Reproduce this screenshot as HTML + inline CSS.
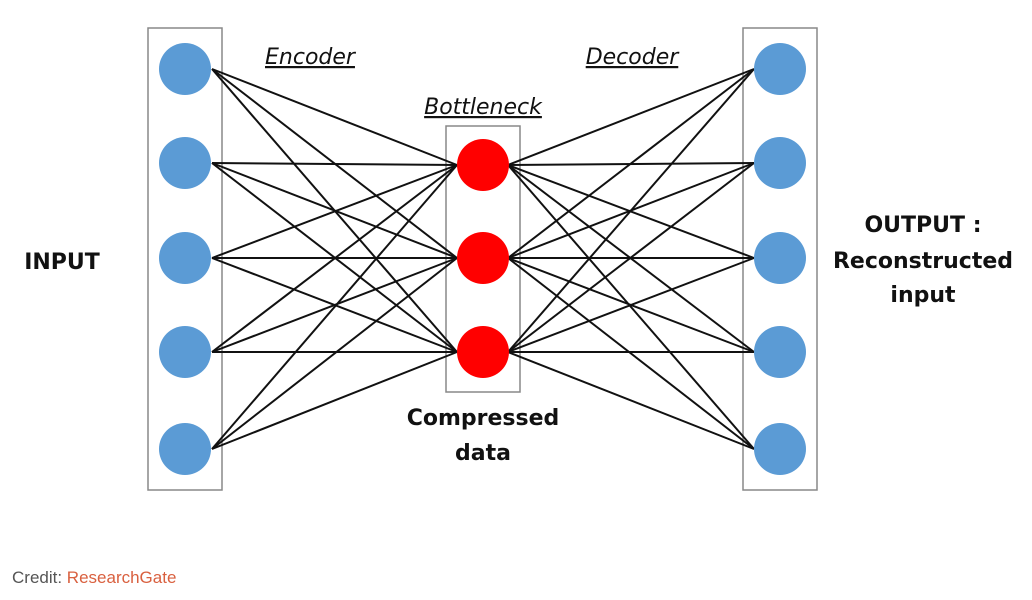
<!DOCTYPE html>
<html><head><style>
body{margin:0;background:#fff;width:1032px;height:600px;overflow:hidden}
svg{display:block}
</style></head><body>
<svg width="1032" height="600" xmlns="http://www.w3.org/2000/svg">
<g fill="none" stroke="#888" stroke-width="1.5">
<rect x="148" y="28" width="74" height="462"/>
<rect x="446" y="126" width="74" height="266"/>
<rect x="743" y="28" width="74" height="462"/>
</g>
<g stroke="#111" stroke-width="2">
<!-- encoder -->
<line x1="212" y1="69" x2="457" y2="165"/><line x1="212" y1="69" x2="457" y2="258"/><line x1="212" y1="69" x2="457" y2="352"/>
<line x1="212" y1="163" x2="457" y2="165"/><line x1="212" y1="163" x2="457" y2="258"/><line x1="212" y1="163" x2="457" y2="352"/>
<line x1="212" y1="258" x2="457" y2="165"/><line x1="212" y1="258" x2="457" y2="258"/><line x1="212" y1="258" x2="457" y2="352"/>
<line x1="212" y1="352" x2="457" y2="165"/><line x1="212" y1="352" x2="457" y2="258"/><line x1="212" y1="352" x2="457" y2="352"/>
<line x1="212" y1="449" x2="457" y2="165"/><line x1="212" y1="449" x2="457" y2="258"/><line x1="212" y1="449" x2="457" y2="352"/>
<!-- decoder -->
<line x1="754" y1="69" x2="508" y2="165"/><line x1="754" y1="69" x2="508" y2="258"/><line x1="754" y1="69" x2="508" y2="352"/>
<line x1="754" y1="163" x2="508" y2="165"/><line x1="754" y1="163" x2="508" y2="258"/><line x1="754" y1="163" x2="508" y2="352"/>
<line x1="754" y1="258" x2="508" y2="165"/><line x1="754" y1="258" x2="508" y2="258"/><line x1="754" y1="258" x2="508" y2="352"/>
<line x1="754" y1="352" x2="508" y2="165"/><line x1="754" y1="352" x2="508" y2="258"/><line x1="754" y1="352" x2="508" y2="352"/>
<line x1="754" y1="449" x2="508" y2="165"/><line x1="754" y1="449" x2="508" y2="258"/><line x1="754" y1="449" x2="508" y2="352"/>
</g>
<g fill="#5b9bd5">
<circle cx="185" cy="69" r="26"/><circle cx="185" cy="163" r="26"/><circle cx="185" cy="258" r="26"/><circle cx="185" cy="352" r="26"/><circle cx="185" cy="449" r="26"/>
<circle cx="780" cy="69" r="26"/><circle cx="780" cy="163" r="26"/><circle cx="780" cy="258" r="26"/><circle cx="780" cy="352" r="26"/><circle cx="780" cy="449" r="26"/>
</g>
<g fill="#ff0000">
<circle cx="483" cy="165" r="26"/><circle cx="483" cy="258" r="26"/><circle cx="483" cy="352" r="26"/>
</g>
<g font-family="'DejaVu Sans',sans-serif" font-size="22" fill="#111">
<text x="310" y="64" text-anchor="middle" font-style="italic" text-decoration="underline">Encoder</text>
<text x="632" y="64" text-anchor="middle" font-style="italic" text-decoration="underline">Decoder</text>
<text x="483" y="114" text-anchor="middle" font-style="italic" text-decoration="underline">Bottleneck</text>
</g>
<g font-family="'DejaVu Sans',sans-serif" font-size="22" font-weight="bold" fill="#111" text-anchor="middle">
<text x="62" y="269">INPUT</text>
<text x="923" y="232">OUTPUT :</text>
<text x="923" y="268">Reconstructed</text>
<text x="923" y="302">input</text>
<text x="483" y="425">Compressed</text>
<text x="483" y="460">data</text>
</g>
<text x="12" y="583" font-family="'Liberation Sans',sans-serif" font-size="17" fill="#555">Credit: <tspan fill="#d9603f">ResearchGate</tspan></text>
</svg>
</body></html>
